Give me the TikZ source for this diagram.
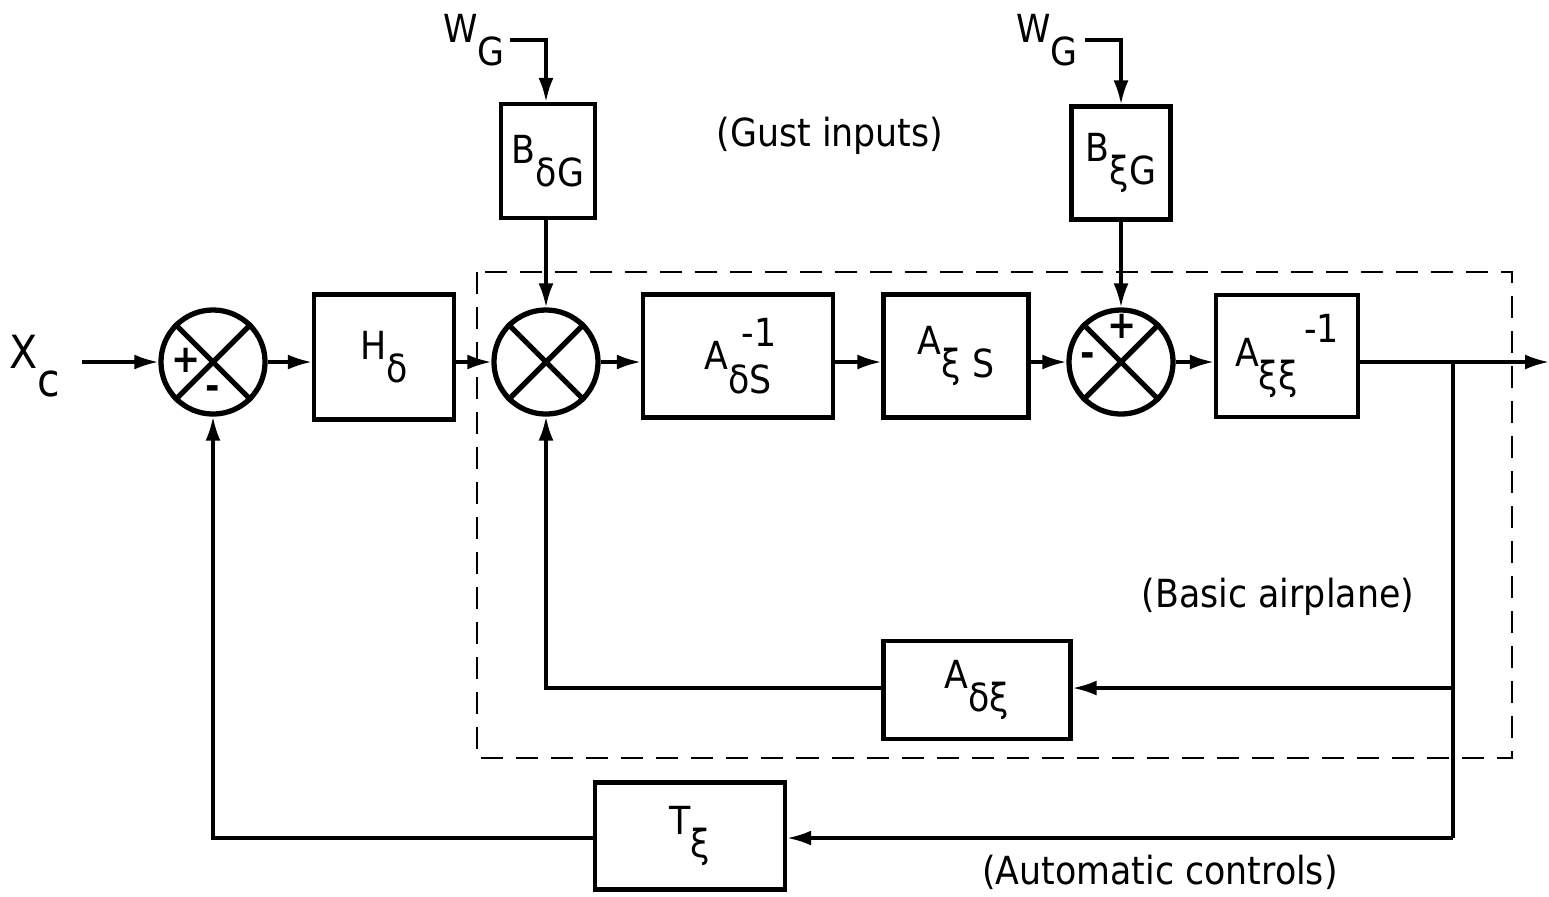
\documentclass[tikz,border=0pt]{standalone}
\usepackage{fontspec}
\setmainfont{DejaVu Sans Condensed}
\usetikzlibrary{arrows.meta}
\newcommand{\lo}[1]{\raisebox{-0.6em}{#1}}
\newcommand{\hi}[1]{\raisebox{0.6em}{#1}}
\begin{document}
\begin{tikzpicture}[x=0.01cm,y=-0.01cm,font=\fontsize{11}{13}\selectfont,
  blk/.style={draw, line width=1.2pt, inner sep=0pt, align=center},
  sumn/.style={circle, draw, line width=1.5pt, minimum size=1.04cm, inner sep=0pt},
  arr/.style={line width=0.9pt, -{Latex[length=2.4mm,width=1.5mm]}},
  ln/.style={line width=0.9pt},
  dbox/.style={line width=0.7pt, dash pattern=on 0.22cm off 0.13cm},
  lbl/.style={inner sep=0pt}]
\useasboundingbox (0,0) rectangle (1549,896);
% dashed box
\draw[dbox] (477,272) rectangle (1512,758);
% sums
\node[sumn] (s1) at (213,362) {};
\node[sumn] (s2) at (546,362) {};
\node[sumn] (s3) at (1121,362) {};
\foreach \s in {s1,s2,s3}{
  \draw[line width=1.5pt] (\s.45)--(\s.225) (\s.135)--(\s.315);
}
\node[lbl] (p1) at (186,360) {\textbf{+}};
\node[lbl] (m1) at (213,393) {\textbf{-}};
\node[lbl] (p3) at (1122,326) {\textbf{+}};
\node[lbl] (m3) at (1088,360) {\textbf{-}};
% boxes
\node[blk, minimum width=1.40cm, minimum height=1.25cm] (H) at (384,357) {H\lo{δ}};
\node[blk, minimum width=0.94cm, minimum height=1.14cm] (Bdg) at (548,161) {B\lo{δG}};
\node[blk, minimum width=1.90cm, minimum height=1.23cm] (Ads) at (738,356) {A\rlap{\hspace{0.35em}\hi{-1}}\lo{δS}};
\node[blk, minimum width=1.45cm, minimum height=1.23cm] (Axs) at (956,356) {A\lo{ξ S}};
\node[blk, minimum width=0.99cm, minimum height=1.13cm] (Bxg) at (1121,163) {B\lo{ξG}};
\node[blk, minimum width=1.42cm, minimum height=1.22cm] (Axx) at (1287,356) {A\lo{ξξ}\,\hi{-1}};
\node[blk, minimum width=1.87cm, minimum height=0.98cm] (Adx) at (977,690) {A\lo{δξ}};
\node[blk, minimum width=1.90cm, minimum height=1.07cm] (T) at (690,836) {T\lo{ξ}};
% texts
\node[lbl, font=\fontsize{13}{15}\selectfont] (xc) at (35,366) {X\lo{c}};
\node[lbl] (wg1) at (474,40) {W\lo{G}};
\node[lbl] (wg2) at (1047,40) {W\lo{G}};
\node[lbl] (gust) at (830,136) {(Gust inputs)};
\node[lbl] (basic) at (1278,597) {(Basic airplane)};
\node[lbl] (auto) at (1160,872) {(Automatic controls)};
% coordinates
\coordinate (xin) at (82,362);
\coordinate (w1) at (510,40);
\coordinate (w2) at (1085,40);
\coordinate (out) at (1549,362);
\coordinate (b1) at (1453,688);
\coordinate (b2) at (1453,838);
\coordinate (br) at (1453,362);
\coordinate (fb2) at (546,688);
\coordinate (fb1) at (213,838);
% connectors
\draw[arr] (xin) -- (s1.west);
\draw[arr] (s1.east) -- (s1.east -| H.west);
\draw[arr] (H.east |- s2) -- (s2.west);
\draw[arr] (w1) -| (s2 |- Bdg.north);
\draw[arr] (s2 |- Bdg.south) -- (s2.north);
\draw[arr] (s2.east) -- (s2.east -| Ads.west);
\draw[arr] (Ads.east |- s2) -- (Axs.west |- s2);
\draw[arr] (Axs.east |- s3) -- (s3.west);
\draw[arr] (w2) -| (Bxg.north);
\draw[arr] (Bxg.south) -- (s3.north);
\draw[arr] (s3.east) -- (s3.east -| Axx.west);
\draw[arr] (Axx.east |- s3) -- (out);
\draw[ln] (br) -- (b2);
\draw[arr] (b1) -- (Adx.east |- b1);
\draw[arr] (Adx.west |- b1) -| (s2.south);
\draw[arr] (b2) -- (T.east |- b2);
\draw[arr] (T.west |- b2) -| (s1.south);
\end{tikzpicture}
\end{document}
